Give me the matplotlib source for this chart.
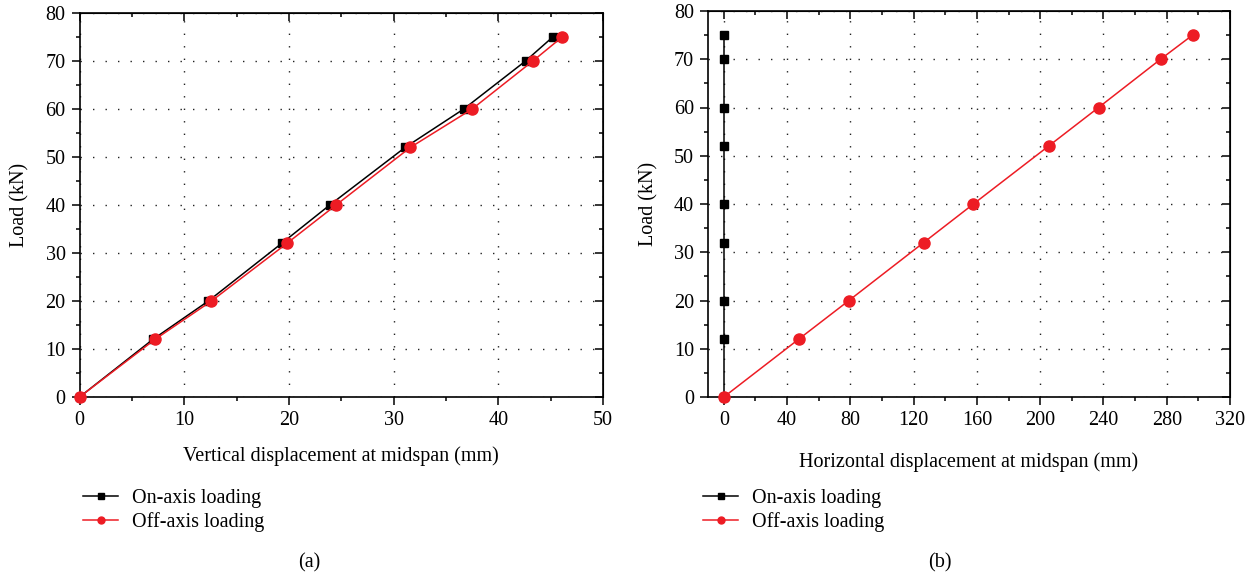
import matplotlib
matplotlib.use("Agg")
import matplotlib.pyplot as plt
from matplotlib.lines import Line2D
import numpy as np

plt.rcParams['font.family'] = ['Liberation Serif', 'DejaVu Serif']
plt.rcParams['font.size'] = 14.5

# load levels (kN)
load = [0, 12, 20, 32, 40, 52, 60, 70, 75]

# (a) vertical displacement at midspan (mm)
vert_on = [0, 7.0, 12.3, 19.3, 23.9, 31.1, 36.7, 42.6, 45.2]
vert_off = [0, 7.2, 12.6, 19.8, 24.5, 31.6, 37.5, 43.3, 46.1]

# (b) horizontal displacement at midspan (mm)
horiz_on = [0, 0, 0, 0, 0, 0, 0, 0, 0]
horiz_off = [0, 47.4, 79.1, 126.3, 157.8, 205.3, 236.9, 276.1, 296.3]

series_labels = ['On-axis loading', 'Off-axis loading']
RED = '#ed1c24'

W, H = 1257, 578
fig = plt.figure(figsize=(W / 100, H / 100), dpi=100)


def px_axes(x0, x1, ytop, ybot):
    return fig.add_axes([x0 / W, 1 - ybot / H, (x1 - x0) / W, (ybot - ytop) / H])


def style_axes(ax, xmaj, xmin, xlim):
    ax.set_xlim(*xlim)
    ax.set_ylim(0, 80)
    ymaj = np.arange(0, 81, 10)
    ymin = np.arange(5, 80, 10)
    ax.set_xticks(xmaj)
    ax.set_xticks(xmin, minor=True)
    ax.set_yticks(ymaj)
    ax.set_yticks(ymin, minor=True)
    ax.tick_params(which='both', direction='out', width=1.1)
    ax.tick_params(which='major', length=6, pad=4)
    ax.tick_params(which='minor', length=3)
    for s in ax.spines.values():
        s.set_linewidth(1.2)
    # inward ticks on the top and right edges
    top = ax.secondary_xaxis('top')
    top.set_xticks(xmaj)
    top.set_xticks(xmin, minor=True)
    top.tick_params(which='both', direction='in', labeltop=False, width=1.1)
    top.tick_params(which='major', length=6)
    top.tick_params(which='minor', length=3)
    right = ax.secondary_yaxis('right')
    right.set_yticks(ymaj)
    right.set_yticks(ymin, minor=True)
    right.tick_params(which='both', direction='in', labelright=False, width=1.1)
    right.tick_params(which='major', length=6)
    right.tick_params(which='minor', length=3)
    ax.grid(True, which='major', color='#222222', linestyle=(0, (1, 8)), linewidth=1.0)
    ax.set_ylabel('Load (kN)')


def draw(ax, x_on, x_off):
    ax.plot(x_on, load, color='black', lw=1.1, marker='s', ms=6, clip_on=False, zorder=3)
    ax.plot(x_off, load, color=RED, lw=1.1, marker='o', ms=8, clip_on=False, zorder=4)


def legend(x_px, y_px):
    handles = [
        Line2D([], [], color='black', lw=1.1, marker='s', ms=4),
        Line2D([], [], color=RED, lw=1.1, marker='o', ms=5),
    ]
    fig.legend(handles, series_labels, loc='upper left',
               bbox_to_anchor=(x_px / W, 1 - y_px / H), frameon=False,
               borderpad=0, borderaxespad=0, handlelength=1.75,
               handletextpad=0.7, labelspacing=0.2)


# panel (a)
ax1 = px_axes(79.6, 603, 13, 397)
style_axes(ax1, np.arange(0, 51, 10), np.arange(5, 50, 10), (0, 50))
draw(ax1, vert_on, vert_off)
ax1.set_xlabel('Vertical displacement at midspan (mm)', labelpad=12)
ax1.yaxis.set_label_coords(-0.095, 0.5)
legend(83, 489)
fig.text(309 / W, 1 - 563 / H, '(a)', ha='center', va='center')

# panel (b)
ax2 = px_axes(708, 1230, 11, 397)
style_axes(ax2, np.arange(0, 321, 40), np.arange(20, 320, 40), (-10, 320))
draw(ax2, horiz_on, horiz_off)
ax2.set_xlabel('Horizontal displacement at midspan (mm)', labelpad=16)
ax2.yaxis.set_label_coords(-0.095, 0.5)
legend(703, 489)
fig.text(940 / W, 1 - 563 / H, '(b)', ha='center', va='center')

fig.savefig('out.png', dpi=100)
